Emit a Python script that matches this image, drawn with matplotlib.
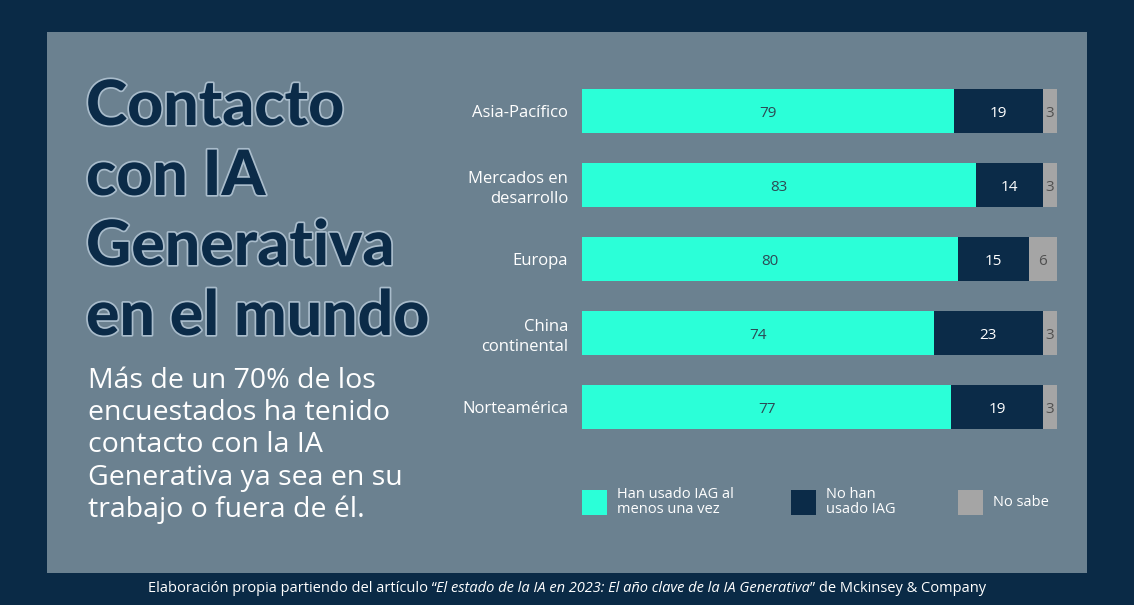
import numpy as np
import matplotlib.pyplot as plt
import matplotlib.patheffects as pe
from matplotlib.patches import Rectangle

# data
regiones = ["Asia-Pacífico", "Mercados en\ndesarrollo", "Europa", "China\ncontinental", "Norteamérica"]
usado = [79, 83, 80, 74, 77]
no_usado = [19, 14, 15, 23, 19]
no_sabe = [3, 3, 6, 3, 3]
series_labels = ["Han usado IAG al\nmenos una vez", "No han\nusado IAG", "No sabe"]

BG = "#0a2a46"
PANEL = "#6b8190"
TEAL = "#2bffd8"
NAVY = "#0b2b48"
GRAY = "#a5a5a5"

W, H = 1134, 605
fig = plt.figure(figsize=(W / 100, H / 100), dpi=100, facecolor=BG)

# inner panel (behind everything)
fig.patches.append(Rectangle((47 / W, 1 - 573 / H), (1087 - 47) / W, (573 - 32) / H,
                             transform=fig.transFigure, facecolor=PANEL, edgecolor="none", zorder=-5))

# title + subtitle
title_font = ["Lato", "DejaVu Sans"]
for i, line in enumerate(["Contacto", "con IA", "Generativa", "en el mundo"]):
    fig.text(86 / W, 1 - (125 + i * 70) / H, line, fontsize=45, fontweight="black",
             family=title_font, color=NAVY, ha="left", va="baseline",
             path_effects=[pe.withStroke(linewidth=2.5, foreground="#a9bccb")])

subtitulo = ("Más de un 70% de los\nencuestados ha tenido\ncontacto con la IA\n"
             "Generativa ya sea en su\ntrabajo o fuera de él.")
fig.text(88 / W, 1 - 367 / H, subtitulo, fontsize=20.5, family=["Open Sans", "DejaVu Sans"],
         color="white", ha="left", va="top", linespacing=1.2)

# bars
ax = fig.add_axes([582 / W, 1 - 444 / H, 475 / W, 370 / H])
ax.set_facecolor("none")
u = np.array(usado, float)
n = np.array(no_usado, float)
s = np.array(no_sabe, float)
tot = u + n + s
y = np.arange(len(regiones))
h = 0.6
ax.barh(y, u / tot, height=h, color=TEAL, label=series_labels[0])
ax.barh(y, n / tot, left=u / tot, height=h, color=NAVY, label=series_labels[1])
ax.barh(y, s / tot, left=(u + n) / tot, height=h, color=GRAY, label=series_labels[2])

lab_font = ["Open Sans", "DejaVu Sans"]
for i in range(len(regiones)):
    yy = y[i] + 0.03
    ax.text(u[i] / tot[i] / 2, yy, str(usado[i]), ha="center", va="center",
            fontsize=11, color="#2d4a55", family=lab_font)
    ax.text((u[i] + n[i] / 2) / tot[i], yy, str(no_usado[i]), ha="center", va="center",
            fontsize=11, color="white", family=lab_font)
    ax.text((u[i] + n[i] + s[i] / 2) / tot[i], yy, str(no_sabe[i]), ha="center", va="center",
            fontsize=11, color="#505050", family=lab_font)

ax.set_xlim(0, 1)
ax.set_ylim(len(regiones) - 0.5, -0.5)
ax.set_yticks(y)
ax.set_yticklabels(regiones, fontsize=12, color="white", family=lab_font, linespacing=1.3)
ax.tick_params(axis="y", length=0, pad=10)
ax.set_xticks([])
for sp in ax.spines.values():
    sp.set_visible(False)

# legend
leg_x = [582, 791, 958]
cols = [TEAL, NAVY, GRAY]
for x0, c, lab in zip(leg_x, cols, series_labels):
    fig.patches.append(Rectangle((x0 / W, 1 - 515 / H), 25 / W, 25 / H,
                                 transform=fig.transFigure, facecolor=c, edgecolor="none"))
    fig.text((x0 + 35) / W, 1 - 502 / H, lab, fontsize=10.5, color="white", family=lab_font,
             ha="left", va="center", linespacing=1.05)

# footer with italic part
foot_font = ["Open Sans", "DejaVu Sans"]
parts = [("Elaboración propia partiendo del artículo \u201c", "normal"),
         ("El estado de la IA en 2023: El año clave de la IA Generativa", "italic"),
         ("\u201d de Mckinsey & Company", "normal")]
texts = [fig.text(0, 1 - 588 / H, p, fontsize=10.5, color="white", family=foot_font,
                  style=st, ha="left", va="center") for p, st in parts]
fig.canvas.draw()
r = fig.canvas.get_renderer()
widths = [t.get_window_extent(r).width for t in texts]
x = 567 - sum(widths) / 2
for t, w in zip(texts, widths):
    t.set_x(x / W)
    x += w

fig.savefig("out.png", dpi=100, facecolor=BG)
